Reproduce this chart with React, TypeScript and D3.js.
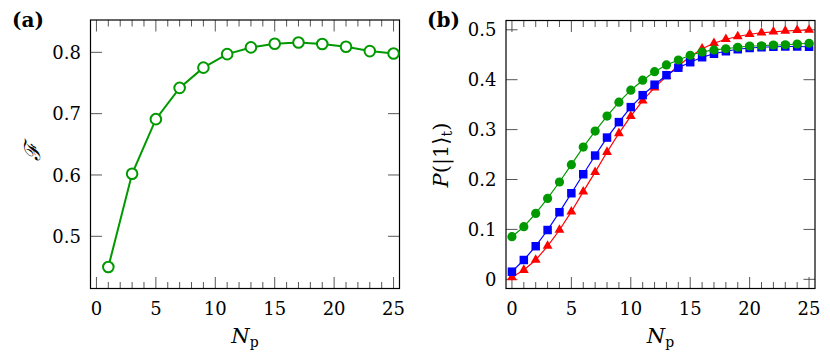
import React from "react";
import * as d3 from "d3";

// Panel (a): fidelity vs N_p
const npA = [1, 3, 5, 7, 9, 11, 13, 15, 17, 19, 21, 23, 25];
const fidelity = [0.450, 0.602, 0.691, 0.742, 0.775, 0.797, 0.808, 0.814, 0.816, 0.8135, 0.809, 0.802, 0.798];

// Panel (b): P(|1>_t) vs N_p
const npB = [0, 1, 2, 3, 4, 5, 6, 7, 8, 9, 10, 11, 12, 13, 14, 15, 16, 17, 18, 19, 20, 21, 22, 23, 24, 25];
const redTri = [0.004, 0.0186, 0.0387, 0.0667, 0.0988, 0.1355, 0.1756, 0.2147, 0.255, 0.2926, 0.327, 0.358, 0.384, 0.407, 0.428, 0.446, 0.462, 0.473, 0.481, 0.4865, 0.491, 0.494, 0.496, 0.4976, 0.499, 0.4996];
const blueSq = [0.0153, 0.0387, 0.0663, 0.0988, 0.1345, 0.1725, 0.2105, 0.248, 0.284, 0.315, 0.345, 0.369, 0.390, 0.409, 0.424, 0.435, 0.445, 0.452, 0.457, 0.461, 0.4635, 0.465, 0.466, 0.4665, 0.4665, 0.466];
const greenCirc = [0.0854, 0.1054, 0.132, 0.162, 0.195, 0.2297, 0.265, 0.297, 0.327, 0.355, 0.379, 0.399, 0.416, 0.4295, 0.4395, 0.449, 0.4555, 0.4596, 0.462, 0.465, 0.4675, 0.468, 0.4695, 0.470, 0.4715, 0.473];

const xTicks = [0, 5, 10, 15, 20, 25];
const yTicksA = [0.5, 0.6, 0.7, 0.8];
const yTicksB = [0, 0.1, 0.2, 0.3, 0.4, 0.5];

const GREEN = "#009900";
const RED = "#ff0000";
const BLUE = "#0000ff";
const SERIF = "'DejaVu Serif', serif";

const MAJ = 11.5;
const MIN = 6.5;

function Frame({ x, y, yTicks, fmt }: any) {
  const [x0, x1] = x.range();
  const [y0, y1] = y.range(); // y0 bottom, y1 top
  const minor = d3.range(0, 26).filter((v) => v % 5 !== 0);
  return (
    <g>
      {minor.map((v) => (
        <g key={"mn" + v} stroke="#444" strokeWidth={0.9}>
          <line x1={x(v)} x2={x(v)} y1={y0} y2={y0 - MIN} />
          <line x1={x(v)} x2={x(v)} y1={y1} y2={y1 + MIN} />
        </g>
      ))}
      {xTicks.map((v) => (
        <g key={"mj" + v}>
          <line x1={x(v)} x2={x(v)} y1={y0} y2={y0 - MAJ} stroke="#444" strokeWidth={0.9} />
          <line x1={x(v)} x2={x(v)} y1={y1} y2={y1 + MAJ} stroke="#444" strokeWidth={0.9} />
          <text x={x(v)} y={314.5} textAnchor="middle" fontFamily={SERIF} fontSize={18} fill="#000">
            {v}
          </text>
        </g>
      ))}
      {yTicks.map((v: number) => (
        <g key={"y" + v}>
          <line x1={x0} x2={x0 + MAJ} y1={y(v)} y2={y(v)} stroke="#444" strokeWidth={0.9} />
          <line x1={x1} x2={x1 - MAJ} y1={y(v)} y2={y(v)} stroke="#444" strokeWidth={0.9} />
          <text x={x0 - 9.5} y={y(v) + 6.6} textAnchor="end" fontFamily={SERIF} fontSize={18} fill="#000">
            {fmt(v)}
          </text>
        </g>
      ))}
      <rect x={x0} y={y1} width={x1 - x0} height={y0 - y1} fill="none" stroke="#000" strokeWidth={1.2} />
    </g>
  );
}

function XLabel({ cx }: { cx: number }) {
  return (
    <text x={cx} y={343} textAnchor="middle" fontFamily={SERIF} fontSize={21} fill="#000">
      <tspan fontStyle="italic">N</tspan>
      <tspan fontSize={14} dy={3.5}>p</tspan>
    </text>
  );
}

export default function App() {
  // Panel (a)
  const xA = d3.scaleLinear().domain([-0.5, 25.5]).range([90.5, 399.5]);
  const yA = d3.scaleLinear().domain([0.4149, 0.8527]).range([288.5, 20]);
  const lineA = d3
    .line<number>()
    .x((_, i) => xA(npA[i]))
    .y((d) => yA(d));

  // Panel (b)
  const xB = d3.scaleLinear().domain([-0.5, 25.5]).range([506, 815]);
  const yB = d3.scaleLinear().domain([-0.0184, 0.5186]).range([288.5, 20.5]);
  const lineB = d3
    .line<number>()
    .x((_, i) => xB(npB[i]))
    .y((d) => yB(d));

  const tri = d3.symbol().type(d3.symbolTriangle).size(42)();
  const sq = d3.symbol().type(d3.symbolSquare).size(72)();

  const fmtA = (v: number) => v.toFixed(1);
  const fmtB = (v: number) => (v === 0 ? "0" : v.toFixed(1));

  return (
    <svg width={830} height={359} style={{ position: "absolute", left: 0, top: 0, background: "#fff" }}>
      <rect width={830} height={359} fill="#fff" />
      {/* Panel (a) */}
      <text x={12} y={27} fontFamily={SERIF} fontWeight="bold" fontSize={20} fill="#000">(a)</text>
      <Frame x={xA} y={yA} yTicks={yTicksA} fmt={fmtA} />
      <path d={lineA(fidelity) || ""} fill="none" stroke={GREEN} strokeWidth={2} />
      {fidelity.map((v, i) => (
        <circle key={i} cx={xA(npA[i])} cy={yA(v)} r={5.3} fill="#fff" stroke={GREEN} strokeWidth={2} />
      ))}
      <XLabel cx={245} />
      <text transform="translate(40,152) rotate(-90)" textAnchor="middle" fontFamily={SERIF} fontStyle="italic" fontSize={22} fill="#000">ℱ</text>

      {/* Panel (b) */}
      <text x={427} y={27} fontFamily={SERIF} fontWeight="bold" fontSize={20} fill="#000">(b)</text>
      <Frame x={xB} y={yB} yTicks={yTicksB} fmt={fmtB} />
      <path d={lineB(redTri) || ""} fill="none" stroke={RED} strokeWidth={1.2} />
      {redTri.map((v, i) => (
        <path key={"r" + i} d={tri || ""} transform={`translate(${xB(npB[i])},${yB(v)})`} fill={RED} />
      ))}
      <path d={lineB(blueSq) || ""} fill="none" stroke={BLUE} strokeWidth={1.2} />
      {blueSq.map((v, i) => (
        <path key={"b" + i} d={sq || ""} transform={`translate(${xB(npB[i])},${yB(v)})`} fill={BLUE} />
      ))}
      <path d={lineB(greenCirc) || ""} fill="none" stroke={GREEN} strokeWidth={1.2} />
      {greenCirc.map((v, i) => (
        <circle key={"g" + i} cx={xB(npB[i])} cy={yB(v)} r={4.6} fill={GREEN} />
      ))}
      <XLabel cx={660.5} />
      <text transform="translate(448,155) rotate(-90)" textAnchor="middle" fontFamily={SERIF} fontSize={21} fill="#000">
        <tspan fontStyle="italic">P</tspan>
        <tspan>(|1⟩</tspan>
        <tspan fontSize={14} dy={3.5}>t</tspan>
        <tspan dy={-3.5}>)</tspan>
      </text>
    </svg>
  );
}
